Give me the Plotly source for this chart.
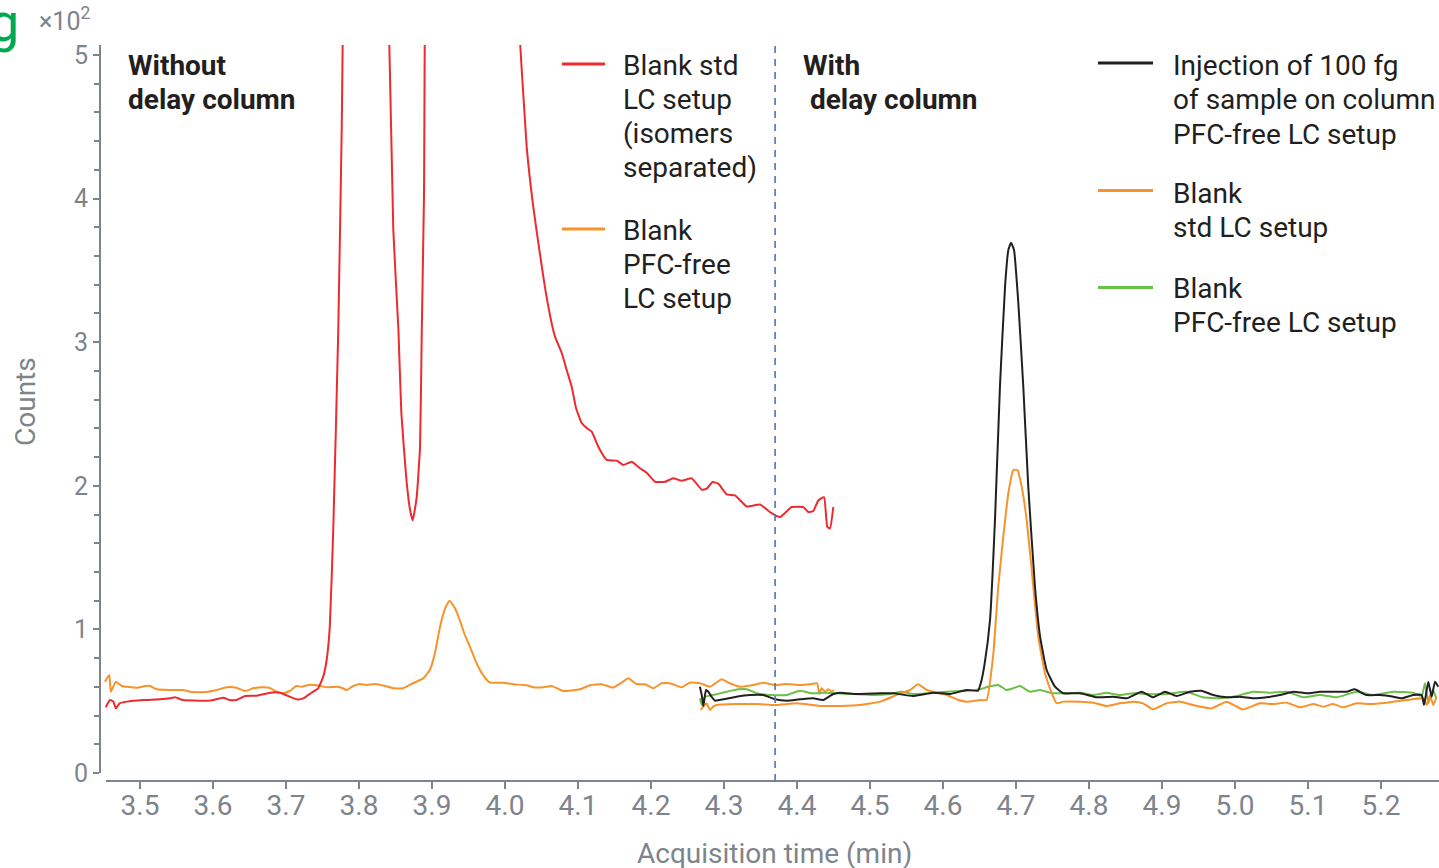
import plotly.graph_objects as go

# ---------------- data (acquisition time in min, counts in units of 10^2) ----------------
# Without delay column: blank, standard LC setup (isomers separated)
red_x = [3.453, 3.459, 3.4635, 3.467, 3.472, 3.482, 3.5045, 3.527, 3.541, 3.548, 3.559, 3.582,
         3.596, 3.614, 3.623, 3.632, 3.644, 3.660, 3.678, 3.692, 3.705, 3.7147, 3.7237, 3.735,
         3.744, 3.751, 3.7557, 3.760, 3.7647, 3.7716, 3.7763, 3.785, 3.81, 3.835, 3.847, 3.854,
         3.858, 3.865, 3.870, 3.8736, 3.879, 3.8836, 3.886, 3.889, 3.895, 3.95, 3.99, 4.017,
         4.0297, 4.0388, 4.0457, 4.0548, 4.064, 4.0685, 4.0777, 4.0845, 4.0914, 4.0973, 4.1051,
         4.1119, 4.1188, 4.1278, 4.1393, 4.1530, 4.1621, 4.1736, 4.1849, 4.1941, 4.2055, 4.2192,
         4.2305, 4.2421, 4.2558, 4.2695, 4.2763, 4.2845, 4.2922, 4.3037, 4.3151, 4.3311, 4.3493,
         4.3630, 4.3767, 4.3927, 4.4086, 4.4155, 4.4223, 4.4292, 4.4370, 4.4415, 4.4452, 4.4497]
red_y = [0.457, 0.508, 0.497, 0.450, 0.485, 0.497, 0.508, 0.513, 0.520, 0.527, 0.508, 0.504,
         0.504, 0.524, 0.508, 0.508, 0.536, 0.538, 0.559, 0.559, 0.531, 0.513, 0.520, 0.559,
         0.590, 0.671, 0.787, 1.019, 1.69, 3.085, 4.48, 7.5, 8.6, 6.5, 3.78, 3.085,
         2.507, 2.04, 1.83, 1.76, 1.92, 2.27, 3.085, 4.01, 7.0, 9.2, 8.0, 5.4,
         4.36, 3.94, 3.69, 3.38, 3.13, 3.039, 2.925, 2.806, 2.690, 2.542, 2.437,
         2.402, 2.377, 2.272, 2.180, 2.175, 2.145, 2.168, 2.122, 2.091, 2.028, 2.028,
         2.052, 2.035, 2.052, 1.973, 1.980, 2.026, 2.015, 1.940, 1.933, 1.856, 1.870,
         1.817, 1.782, 1.852, 1.852, 1.817, 1.824, 1.898, 1.921, 1.714, 1.703, 1.852]

# Without delay column: blank, PFC-free LC setup
orange_nd_x = [3.452, 3.458, 3.460, 3.467, 3.475, 3.4955, 3.507, 3.514, 3.523, 3.541, 3.559, 3.571,
               3.591, 3.605, 3.619, 3.632, 3.644, 3.655, 3.669, 3.678, 3.687, 3.696, 3.705, 3.714,
               3.7215, 3.7305, 3.742, 3.756, 3.769, 3.776, 3.783, 3.792, 3.801, 3.8105, 3.822,
               3.836, 3.847, 3.8605, 3.874, 3.888, 3.897, 3.904, 3.911, 3.918, 3.924, 3.9315,
               3.938, 3.945, 3.952, 3.961, 3.970, 3.979, 3.998, 4.0114, 4.0297, 4.039, 4.0525,
               4.064, 4.080, 4.1027, 4.1164, 4.1325, 4.148, 4.1585, 4.169, 4.180, 4.192, 4.203,
               4.2146, 4.226, 4.242, 4.253, 4.267, 4.2808, 4.2968, 4.308, 4.3219, 4.340, 4.3539,
               4.3699, 4.3858, 4.404, 4.4201, 4.4278, 4.4305, 4.4338, 4.4384, 4.443, 4.4475, 4.4507]
orange_nd_y = [0.636, 0.682, 0.566, 0.636, 0.606, 0.594, 0.606, 0.606, 0.583, 0.578, 0.578, 0.564,
               0.564, 0.578, 0.597, 0.594, 0.571, 0.590, 0.597, 0.592, 0.566, 0.555, 0.571, 0.606,
               0.601, 0.613, 0.611, 0.597, 0.601, 0.594, 0.578, 0.606, 0.620, 0.613, 0.620,
               0.606, 0.590, 0.590, 0.625, 0.659, 0.717, 0.834, 1.019, 1.147, 1.200, 1.147,
               1.065, 0.961, 0.880, 0.764, 0.682, 0.631, 0.629, 0.618, 0.611, 0.597, 0.597,
               0.606, 0.571, 0.583, 0.611, 0.618, 0.594, 0.625, 0.659, 0.620, 0.618, 0.590,
               0.625, 0.625, 0.597, 0.629, 0.625, 0.601, 0.653, 0.625, 0.601, 0.613, 0.629,
               0.613, 0.620, 0.613, 0.620, 0.625, 0.550, 0.590, 0.566, 0.583, 0.566, 0.578]

# With delay column: injection of 100 fg of sample on column, PFC-free LC setup
black_x = [4.267, 4.2695, 4.2717, 4.2753, 4.2785, 4.283, 4.2877, 4.299, 4.317, 4.3356, 4.354, 4.370,
           4.386, 4.404, 4.4223, 4.436, 4.4497, 4.4589, 4.4817, 4.5137, 4.532, 4.559, 4.5868,
           4.6096, 4.6324, 4.648, 4.652, 4.657, 4.6644, 4.6712, 4.678, 4.685, 4.6895, 4.6932,
           4.6973, 4.7032, 4.71, 4.7168, 4.726, 4.733, 4.742, 4.7534, 4.7648, 4.7877, 4.8105,
           4.833, 4.8516, 4.872, 4.888, 4.904, 4.920, 4.938, 4.954, 4.970, 4.9886, 5.0068, 5.025,
           5.0434, 5.0616, 5.080, 5.098, 5.1164, 5.1345, 5.153, 5.164, 5.180, 5.1986, 5.217,
           5.2283, 5.244, 5.2557, 5.259, 5.2648, 5.2694, 5.274, 5.2785]
black_y = [0.601, 0.543, 0.467, 0.578, 0.566, 0.531, 0.504, 0.513, 0.531, 0.543, 0.543, 0.513,
           0.504, 0.513, 0.520, 0.508, 0.550, 0.559, 0.550, 0.555, 0.555, 0.536, 0.559,
           0.550, 0.578, 0.573, 0.63, 0.76, 1.065, 1.762, 2.690, 3.387, 3.642, 3.693,
           3.642, 3.271, 2.690, 1.994, 1.297, 0.949, 0.717, 0.601, 0.555, 0.555, 0.527,
           0.531, 0.520, 0.566, 0.527, 0.566, 0.536, 0.566, 0.573, 0.543, 0.527, 0.531, 0.520,
           0.527, 0.543, 0.566, 0.555, 0.566, 0.566, 0.566, 0.583, 0.543, 0.543, 0.531,
           0.520, 0.543, 0.543, 0.473, 0.636, 0.531, 0.636, 0.601]

# With delay column: blank, standard LC setup
orange_d_x = [4.268, 4.2717, 4.276, 4.281, 4.285, 4.29, 4.317, 4.345, 4.372, 4.3996, 4.4315, 4.459,
              4.486, 4.514, 4.536, 4.555, 4.566, 4.5777, 4.5868, 4.605, 4.621, 4.6324, 4.6507,
              4.6598, 4.669, 4.6757, 4.6826, 4.6895, 4.6963, 4.7018, 4.7078, 4.7146, 4.7215,
              4.7305, 4.7397, 4.749, 4.7558, 4.7648, 4.7877, 4.806, 4.824, 4.842, 4.861, 4.874,
              4.888, 4.906, 4.9247, 4.943, 4.968, 4.9886, 5.011, 5.034, 5.052, 5.071, 5.089,
              5.107, 5.121, 5.1345, 5.148, 5.1667, 5.185, 5.208, 5.235, 5.258, 5.2626, 5.267,
              5.2716, 5.276]
orange_d_y = [0.439, 0.462, 0.485, 0.439, 0.462, 0.473, 0.480, 0.480, 0.473, 0.485, 0.467, 0.467,
              0.473, 0.497, 0.543, 0.578, 0.618, 0.578, 0.566, 0.543, 0.508, 0.497, 0.508,
              0.508, 0.834, 1.297, 1.646, 1.948, 2.110, 2.110, 1.994, 1.762, 1.414,
              0.949, 0.694, 0.555, 0.485, 0.497, 0.497, 0.490, 0.467, 0.485, 0.497, 0.485,
              0.443, 0.485, 0.497, 0.473, 0.450, 0.497, 0.443, 0.485, 0.480, 0.490, 0.457,
              0.480, 0.462, 0.480, 0.457, 0.485, 0.480, 0.490, 0.508, 0.520, 0.473, 0.543,
              0.473, 0.531]

# With delay column: blank, PFC-free LC setup
green_x = [4.267, 4.2695, 4.274, 4.285, 4.3037, 4.3196, 4.331, 4.345, 4.363, 4.386, 4.404, 4.420,
           4.436, 4.4543, 4.477, 4.5045, 4.527, 4.543, 4.559, 4.5777, 4.605, 4.6324, 4.6507,
           4.662, 4.6757, 4.687, 4.696, 4.7055, 4.719, 4.733, 4.7466, 4.7648, 4.7877, 4.806,
           4.824, 4.842, 4.861, 4.879, 4.906, 4.933, 4.956, 4.979, 5.002, 5.025, 5.048, 5.071,
           5.0936, 5.1164, 5.139, 5.1667, 5.189, 5.217, 5.244, 5.2557, 5.2603, 5.2648, 5.271, 5.276]
green_y = [0.520, 0.473, 0.531, 0.543, 0.566, 0.583, 0.583, 0.555, 0.543, 0.543, 0.573, 0.555,
           0.559, 0.555, 0.550, 0.543, 0.550, 0.566, 0.550, 0.555, 0.566, 0.573, 0.583,
           0.601, 0.613, 0.578, 0.590, 0.606, 0.566, 0.578, 0.559, 0.555, 0.559, 0.543,
           0.559, 0.543, 0.555, 0.550, 0.550, 0.566, 0.527, 0.520, 0.536, 0.566, 0.559, 0.566,
           0.527, 0.543, 0.527, 0.566, 0.543, 0.566, 0.559, 0.536, 0.625, 0.485, 0.578, 0.520]

x_ticks = [3.5, 3.6, 3.7, 3.8, 3.9, 4.0, 4.1, 4.2, 4.3, 4.4, 4.5, 4.6, 4.7, 4.8, 4.9, 5.0, 5.1, 5.2]
y_ticks = [0, 1, 2, 3, 4, 5]
column_switch = 4.37

# ---------------- style ----------------
RED = "#ee2a2f"
ORANGE = "#f8922a"
BLACK = "#231f20"
GREEN = "#6cbf47"
GREY = "#7e848c"
TEXT = "#231f20"
FONT = "Roboto"

W, H = 1439, 868
L, R, T, B = 100, 0, 45, 87
PW, PH = W - L - R, H - T - B
X0, X_PER_PX = 3.5 - 40 / 730, 1 / 730
Y_PER_PX = 1 / 143.6


def px(xp):
    return (xp - L) / PW


def py(yp):
    return (H - B - yp) / PH


fig = go.Figure()


def add_line(x, y, color, name):
    fig.add_trace(go.Scatter(x=x, y=y, mode="lines", name=name,
                             line=dict(color=color, width=2, shape="spline", smoothing=0.4),
                             showlegend=False, hoverinfo="skip"))


add_line(orange_nd_x, orange_nd_y, ORANGE, "Blank PFC-free LC setup")
add_line(red_x, red_y, RED, "Blank std LC setup (isomers separated)")
add_line(green_x, green_y, GREEN, "Blank PFC-free LC setup (delay column)")
add_line(orange_d_x, orange_d_y, ORANGE, "Blank std LC setup (delay column)")
add_line(black_x, black_y, BLACK, "Injection of 100 fg of sample on column")

x_range = [X0, X0 + PW * X_PER_PX]
y_range = [-8 * Y_PER_PX, (H - B - 8 - T) * Y_PER_PX]

shapes = [
    # axis lines
    dict(type="line", xref="paper", yref="y", x0=0, x1=0, y0=0, y1=y_range[1],
         line=dict(color=GREY, width=2)),
    dict(type="line", xref="paper", yref="paper", x0=px(106), x1=1, y0=0, y1=0,
         line=dict(color=GREY, width=2)),
    # column switch marker
    dict(type="line", xref="x", yref="paper", x0=column_switch, x1=column_switch, y0=0, y1=1,
         line=dict(color="#4a74c4", width=1.6, dash="7px,6px")),
]

# legend swatches
swatches = [(562, 605, 64, RED), (562, 605, 229, ORANGE),
            (1098, 1153, 63, BLACK), (1098, 1153, 190.5, ORANGE), (1098, 1153, 287.5, GREEN)]
for a, b, yy, c in swatches:
    shapes.append(dict(type="line", xref="paper", yref="paper", x0=px(a), x1=px(b),
                       y0=py(yy), y1=py(yy), line=dict(color=c, width=3)))

annotations = []


def text_lines(x, y_mids, lines, size=28, color=TEXT, bold=False):
    for ym, line in zip(y_mids, lines):
        txt = f"<b>{line}</b>" if bold else line
        annotations.append(dict(xref="paper", yref="paper", x=px(x), y=py(ym), text=txt,
                                showarrow=False, xanchor="left", yanchor="middle",
                                align="left",
                                font=dict(family=FONT, size=size, color=color)))


text_lines(126, [65, 99], ["Without", "delay column"], bold=True)
text_lines(621, [65, 99, 133, 167], ["Blank std", "LC setup", "(isomers", "separated)"])
text_lines(621, [230, 264, 298], ["Blank", "PFC-free", "LC setup"])
text_lines(801, [65, 99], ["With", "\u00a0delay column"], bold=True)
text_lines(1171, [65, 100, 134], ["Injection of 100 fg", "of sample on column",
                                  "PFC-free LC setup"])
text_lines(1171, [193, 228], ["Blank", "std LC setup"])
text_lines(1171, [288, 322], ["Blank", "PFC-free LC setup"])

# axis titles and scale factor
annotations.append(dict(xref="paper", yref="paper", x=px(774), y=py(853),
                        text="Acquisition time (min)", showarrow=False,
                        xanchor="center", yanchor="middle",
                        font=dict(family=FONT, size=28, color=GREY)))
annotations.append(dict(xref="paper", yref="paper", x=px(25), y=py(402), text="Counts",
                        showarrow=False, textangle=-90, xanchor="center", yanchor="middle",
                        font=dict(family=FONT, size=28, color=GREY)))
annotations.append(dict(xref="paper", yref="paper", x=px(37), y=py(20),
                        text="×10<sup>2</sup>", showarrow=False,
                        xanchor="left", yanchor="middle",
                        font=dict(family=FONT, size=25, color=GREY)))
# panel letter
annotations.append(dict(xref="paper", yref="paper", x=px(21), y=py(23), text="g",
                        showarrow=False, xanchor="right", yanchor="middle",
                        font=dict(family=FONT, size=54, color="#00a94f")))

fig.update_layout(
    width=W, height=H,
    margin=dict(l=L, r=R, t=T, b=B, pad=0),
    paper_bgcolor="white", plot_bgcolor="white",
    shapes=shapes, annotations=annotations,
    font=dict(family=FONT, color=GREY),
    xaxis=dict(range=x_range, tickvals=x_ticks, ticktext=[f"{v:.1f}" for v in x_ticks],
               ticks="outside", ticklen=7, tickwidth=1.5, tickcolor=GREY,
               ticklabelstandoff=-8,
               showgrid=False, zeroline=False, showline=False,
               tickfont=dict(family=FONT, size=28, color=GREY)),
    yaxis=dict(range=y_range, tickvals=y_ticks, ticks="outside", ticklen=6, tickwidth=1.5,
               tickcolor=GREY, showgrid=False, zeroline=False, showline=False,
               tickfont=dict(family=FONT, size=25, color=GREY),
               minor=dict(dtick=0.2, tick0=0, ticks="outside", ticklen=5, tickwidth=1.5,
                          tickcolor=GREY)),
)

fig.write_html("out.html")
